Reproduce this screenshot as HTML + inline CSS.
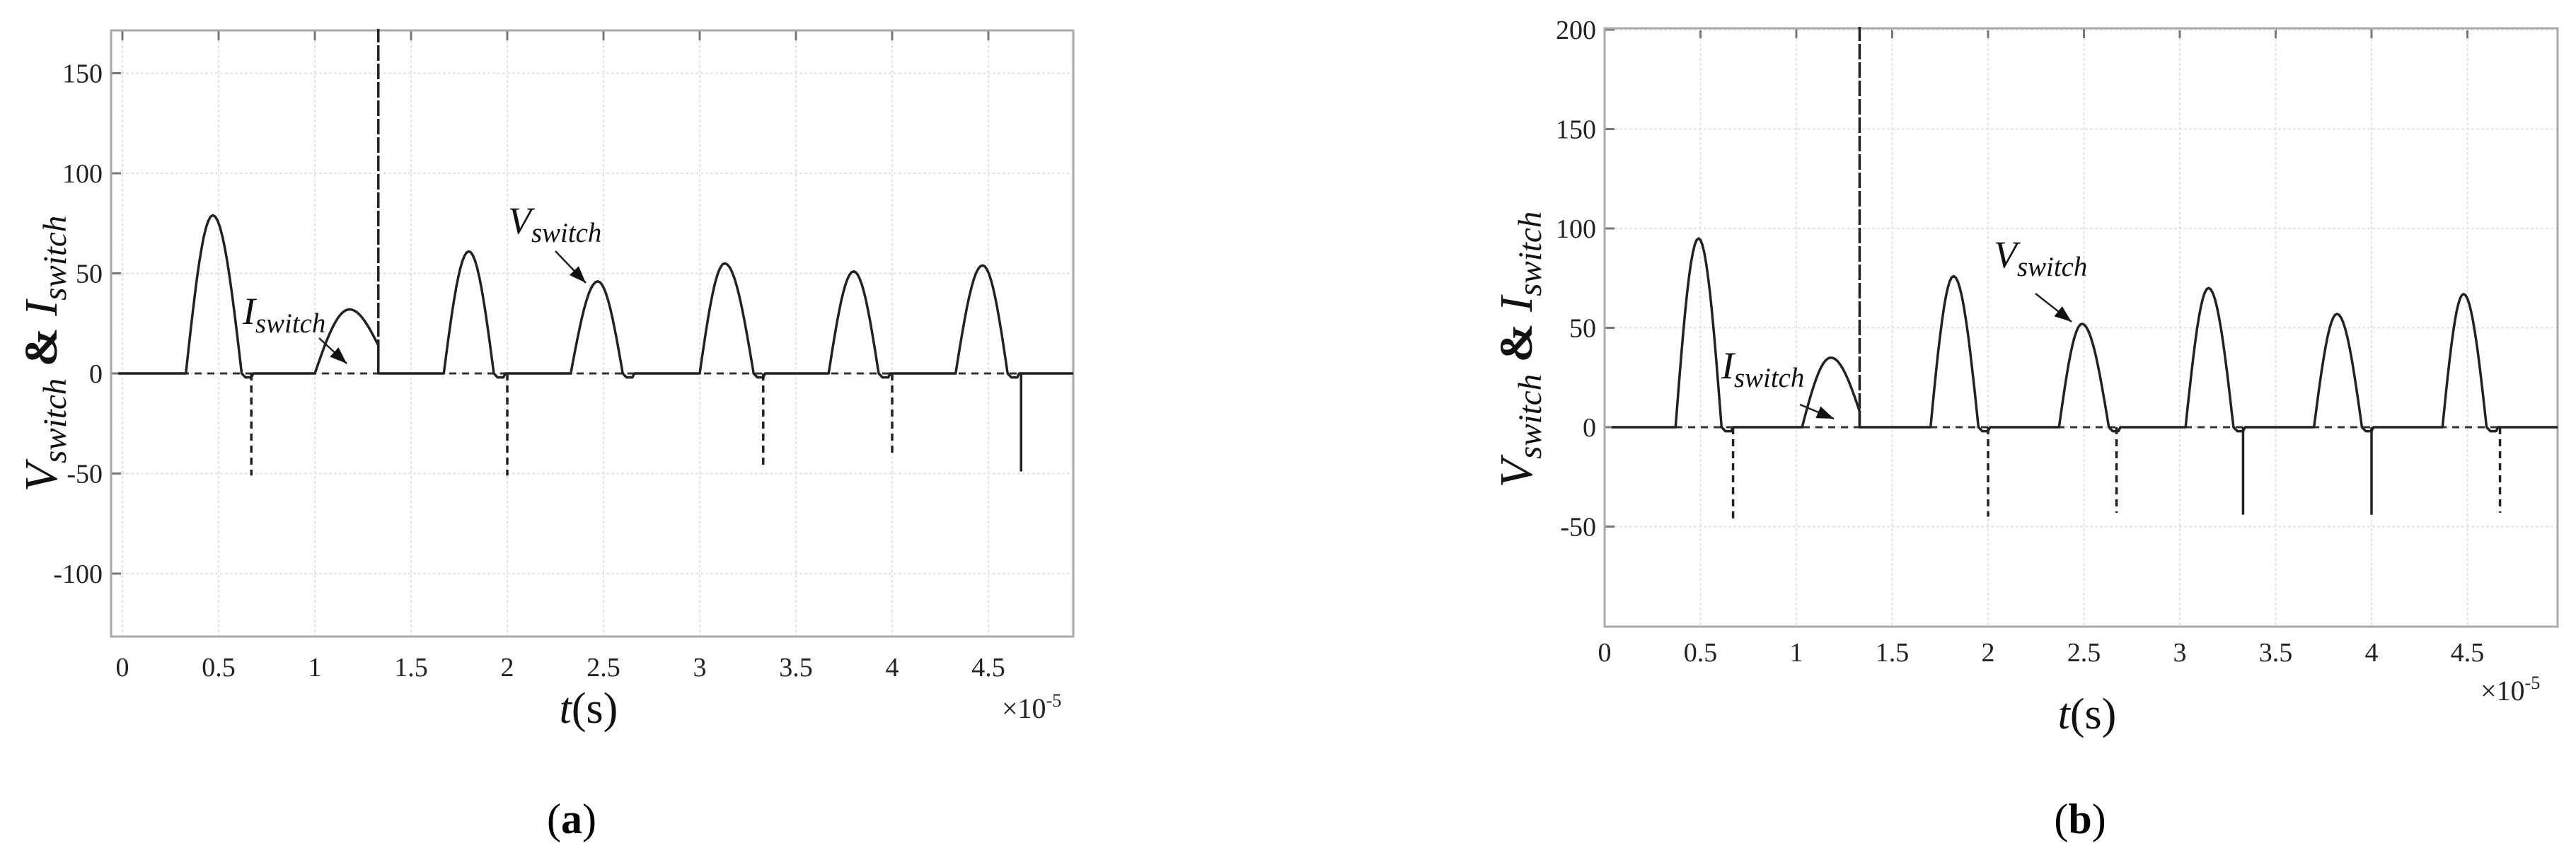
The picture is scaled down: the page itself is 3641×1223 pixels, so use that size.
<!DOCTYPE html>
<html><head><meta charset="utf-8"><style>
html,body{margin:0;padding:0;background:#fff;}
svg{display:block;font-family:"Liberation Serif",serif;}
</style></head><body>
<svg id="fig" width="3641" height="1223" viewBox="0 0 3641 1223" xmlns="http://www.w3.org/2000/svg"></svg>
<script>
// ---- Chart (a) data ----
const aXTicks = [0,0.5,1,1.5,2,2.5,3,3.5,4,4.5];
const aXTickLabels = ["0","0.5","1","1.5","2","2.5","3","3.5","4","4.5"];
const aYTicks = [150,100,50,0,-50,-100];
const aYTickLabels = ["150","100","50","0","-50","-100"];
const aPulseStart = [0.33,1.00,1.67,2.33,3.00,3.67,4.33];
const aPulsePeakT = [0.47,1.18,1.80,2.47,3.13,3.80,4.47];
const aPulseEnd   = [0.62,1.33,1.93,2.60,3.28,3.93,4.60];
const aPulsePeak  = [79,32,61,46,55,51,54];
const aPulseEndV  = [0,14,0,0,0,0,0];
const aSpikeT = [0.67,2.00,3.33,4.00,4.67];
const aSpikeV = [-51,-51,-48,-42,-49];
const aSpikeSolid = [0,0,0,0,1];
const aBigSpikeT = [1.33];
// ---- Chart (b) data ----
const bXTicks = [0,0.5,1,1.5,2,2.5,3,3.5,4,4.5];
const bXTickLabels = ["0","0.5","1","1.5","2","2.5","3","3.5","4","4.5"];
const bYTicks = [200,150,100,50,0,-50];
const bYTickLabels = ["200","150","100","50","0","-50"];
const bPulseStart = [0.37,1.03,1.70,2.37,3.03,3.70,4.37];
const bPulsePeakT = [0.49,1.18,1.82,2.49,3.15,3.82,4.48];
const bPulseEnd   = [0.61,1.33,1.95,2.63,3.28,3.95,4.60];
const bPulsePeak  = [95,35,76,52,70,57,67];
const bPulseEndV  = [0,8,0,0,0,0,0];
const bSpikeT = [0.67,2.00,2.67,3.33,4.00,4.67];
const bSpikeV = [-46,-45,-43,-44,-44,-43];
const bSpikeSolid = [0,0,0,1,1,0];
const bBigSpikeT = [1.33];

const NS="http://www.w3.org/2000/svg";
const svg=document.getElementById('fig');
function mk(tag,attrs,parent){const e=document.createElementNS(NS,tag);for(const k in attrs)e.setAttribute(k,attrs[k]);(parent||svg).appendChild(e);return e;}

function drawChart(cfg){
  const g=mk('g',{});
  
  
  const X=v=>cfg.x0+v*cfg.xs, Y=v=>cfg.y0-v*cfg.ys;
  cfg.xTicks.forEach((t,i)=>{
    const l=mk('line',{x1:X(t),x2:X(t),y1:cfg.top,y2:cfg.bottom,stroke:'#e2e2e2','stroke-width':2,'stroke-dasharray':'4 3'},g);
    
    
    const tk=mk('line',{x1:X(t),x2:X(t),y1:cfg.top,y2:cfg.top+14,stroke:'#777','stroke-width':3},g);
    
    
    const tx=mk('text',{x:X(t),y:cfg.xLabY,'font-size':38,'text-anchor':'middle',fill:'#222'},g);
    tx.textContent=cfg.xLabels[i];
    
    
  });
  cfg.yTicks.forEach((t,i)=>{
    const l=mk('line',{x1:cfg.left,x2:cfg.right,y1:Y(t),y2:Y(t),stroke:'#e2e2e2','stroke-width':2,'stroke-dasharray':'4 3'},g);
    
    
    const tk=mk('line',{x1:cfg.left,x2:cfg.left+14,y1:Y(t),y2:Y(t),stroke:'#777','stroke-width':3},g);
    
    
    const tx=mk('text',{x:cfg.left-12,y:Y(t)+13,'font-size':38,'text-anchor':'end',fill:'#222'},g);
    tx.textContent=cfg.yLabels[i];
    
    
  });
  const fr=mk('rect',{x:cfg.left,y:cfg.top,width:cfg.right-cfg.left,height:cfg.bottom-cfg.top,fill:'none',stroke:'#aaa','stroke-width':3},g);
  
  
  const z=mk('line',{x1:cfg.left+10,x2:cfg.right,y1:Y(0),y2:Y(0),stroke:'#333','stroke-width':3,'stroke-dasharray':'10 8'},g);
  
  
  let d='M'+(cfg.left+10)+' '+Y(0);
  for(let i=0;i<cfg.ps.length;i++){
    const s=cfg.ps[i],p=cfg.pt[i],e=cfg.pe[i],h=cfg.ph[i],ev=cfg.pev[i];
    d+=' L'+X(s)+' '+Y(0);
    for(let k=1;k<=12;k++){const u=k/12;d+=' L'+X(s+(p-s)*u).toFixed(1)+' '+Y(h*Math.sin(Math.PI/2*u)).toFixed(1);}
    for(let k=1;k<=12;k++){const u=k/12;const v=ev+(h-ev)*Math.cos(Math.PI/2*u);d+=' L'+X(p+(e-p)*u).toFixed(1)+' '+Y(v).toFixed(1);}
    if(ev!==0){d+=' L'+X(e)+' '+Y(0);}
    else{d+=' L'+X(e+0.02)+' '+Y(-2)+' L'+X(e+0.05)+' '+Y(-2)+' L'+X(e+0.06)+' '+Y(0);}
  }
  d+=' L'+cfg.right+' '+Y(0);
  const vp=mk('path',{d:d,fill:'none',stroke:'#222','stroke-width':3.5,'stroke-linejoin':'round'},g);
  
  
  cfg.st.forEach((t,i)=>{
    const l=mk('line',{x1:X(t),x2:X(t),y1:Y(0),y2:Y(cfg.sv[i]),stroke:'#222','stroke-width':3.5},g);
    if(!cfg.ss[i])l.setAttribute('stroke-dasharray','10 7');
    
    
  });
  cfg.bt.forEach(t=>{
    const l=mk('line',{x1:X(t),x2:X(t),y1:Y(0),y2:cfg.top-2,stroke:'#222','stroke-width':3.5,'stroke-dasharray':'22 4'},g);
    
    
  });
  return g;
}

function label(parent,x,y,main,sub,fs,name){
  const t=mk('text',{x:x,y:y,'font-size':fs,'font-style':'italic',fill:'#111'},parent);
  
  
  const a=mk('tspan',{},t);a.textContent=main;
  const b=mk('tspan',{'font-size':fs*0.72,dy:fs*0.22},t);b.textContent=sub;
  return t;
}
function arrow(parent,x1,y1,x2,y2,name){
  const l=mk('line',{x1:x1,y1:y1,x2:x2,y2:y2,stroke:'#222','stroke-width':2.5},parent);
  
  
  const ang=Math.atan2(y2-y1,x2-x1),L=24,W=9;
  const bx=x2-L*Math.cos(ang),by=y2-L*Math.sin(ang);
  const px=-Math.sin(ang)*W,py=Math.cos(ang)*W;
  const h=mk('polygon',{points:x2+','+y2+' '+(bx+px)+','+(by+py)+' '+(bx-px)+','+(by-py),fill:'#111'},parent);
  
  
}

const ga=drawChart({name:'chart-a',x0:173,xs:272,y0:528,ys:2.83,left:157,right:1517,top:43,bottom:900,xLabY:956,
  xTicks:aXTicks,xLabels:aXTickLabels,yTicks:aYTicks,yLabels:aYTickLabels,
  ps:aPulseStart,pt:aPulsePeakT,pe:aPulseEnd,ph:aPulsePeak,pev:aPulseEndV,st:aSpikeT,sv:aSpikeV,ss:aSpikeSolid,bt:aBigSpikeT});
const gb=drawChart({name:'chart-b',x0:2268,xs:271,y0:604,ys:2.81,left:2268,right:3615,top:40,bottom:886,xLabY:935,
  xTicks:bXTicks,xLabels:bXTickLabels,yTicks:bYTicks,yLabels:bYTickLabels,
  ps:bPulseStart,pt:bPulsePeakT,pe:bPulseEnd,ph:bPulsePeak,pev:bPulseEndV,st:bSpikeT,sv:bSpikeV,ss:bSpikeSolid,bt:bBigSpikeT});

label(ga,718,330,'V','switch',54,'v-switch-annotation');
arrow(ga,785,355,828,400,'v-switch-arrow');
label(ga,343,458,'I','switch',54,'i-switch-annotation');
arrow(ga,451,478,490,514,'i-switch-arrow');
label(gb,2818,378,'V','switch',54,'v-switch-annotation');
arrow(gb,2877,415,2928,455,'v-switch-arrow');
label(gb,2433,535,'I','switch',54,'i-switch-annotation');
arrow(gb,2544,572,2592,592,'i-switch-arrow');

function ytitle(parent,x,y,name){
  const t=mk('text',{x:x,y:y,'font-size':66,'font-style':'italic','text-anchor':'middle',fill:'#111',transform:'rotate(-90 '+x+' '+y+')'},parent);
  
  
  const a=mk('tspan',{},t);a.textContent='V';
  const b=mk('tspan',{'font-size':47,dy:13},t);b.textContent='switch';
  const c=mk('tspan',{'font-style':'normal','font-weight':'bold',dy:-13},t);c.textContent=' & ';
  const d=mk('tspan',{},t);d.textContent='I';
  const e=mk('tspan',{'font-size':47,dy:13},t);e.textContent='switch';
}
ytitle(ga,80,500,'y-axis-title');
ytitle(gb,2165,494,'y-axis-title');
function xtitle(parent,x,y,name){
  const t=mk('text',{x:x,y:y,'font-size':62,'text-anchor':'middle',fill:'#111'},parent);
  
  
  const a=mk('tspan',{'font-style':'italic'},t);a.textContent='t';
  const b=mk('tspan',{},t);b.textContent='(s)';
}
xtitle(ga,832,1022,'x-axis-title');
xtitle(gb,2950,1030,'x-axis-title');
function expo(parent,x,y){
  const t=mk('text',{x:x,y:y,'font-size':40,fill:'#222'},parent);
  
  
  const a=mk('tspan',{},t);a.textContent='×10';
  const b=mk('tspan',{'font-size':26,dy:-16},t);b.textContent='-5';
}
expo(ga,1416,1015);
expo(gb,3506,990);
function cap(x,y,txt,name){
  const t=mk('text',{x:x,y:y,'font-size':60,'text-anchor':'middle',fill:'#000'});
  
  
  const a=mk('tspan',{},t);a.textContent='(';
  const b=mk('tspan',{'font-weight':'bold'},t);b.textContent=txt;
  const c=mk('tspan',{},t);c.textContent=')';
}
cap(808,1178,'a','caption-a');
cap(2940,1178,'b','caption-b');
</script>
</body></html>
